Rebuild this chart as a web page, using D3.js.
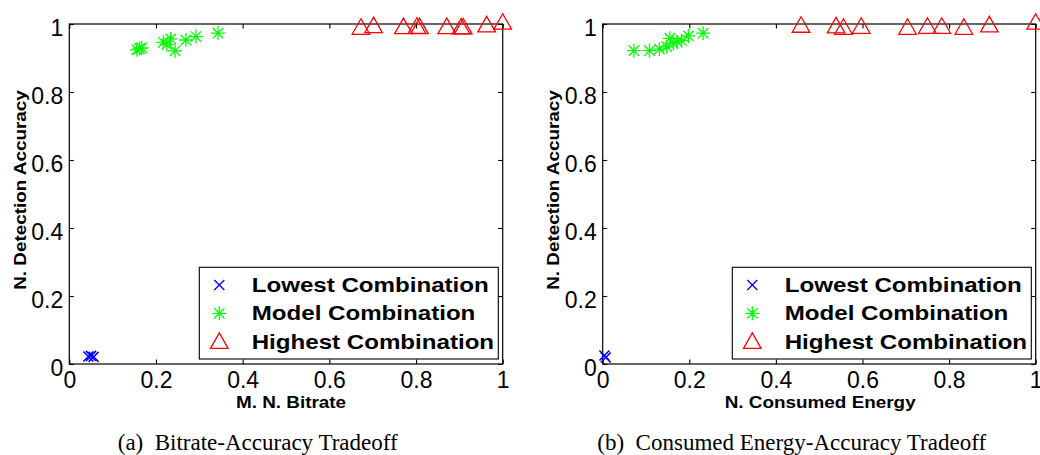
<!DOCTYPE html>
<html><head><meta charset="utf-8">
<script src="https://cdn.jsdelivr.net/npm/d3@7"></script>
<style>body{margin:0;background:#fff} svg{display:block}</style>
</head><body>
<svg id="chart" width="1040" height="455"></svg>
<script>
// ---------- data ----------
const tickValues = [0, 0.2, 0.4, 0.6, 0.8, 1];
const tickLabels = ["0", "0.2", "0.4", "0.6", "0.8", "1"];
const seriesNames = ["Lowest Combination", "Model Combination", "Highest Combination"];
const xTitles = ["M. N. Bitrate", "N. Consumed Energy"];
const yTitle = "N. Detection Accuracy";
const captions = ["(a)\u00A0\u00A0Bitrate-Accuracy Tradeoff", "(b)\u00A0\u00A0Consumed Energy-Accuracy Tradeoff"];

// (a) bitrate vs accuracy
const bitrateLowX = [0.044, 0.050, 0.056];
const bitrateLowY = [0.022, 0.024, 0.021];
const bitrateModelX = [0.156, 0.162, 0.167, 0.217, 0.225, 0.234, 0.244, 0.269, 0.292, 0.343];
const bitrateModelY = [0.924, 0.928, 0.930, 0.946, 0.940, 0.956, 0.921, 0.953, 0.963, 0.973];
const bitrateHighX = [0.673, 0.702, 0.771, 0.802, 0.808, 0.871, 0.904, 0.909, 0.963, 1.0];
const bitrateHighY = [0.985, 0.990, 0.987, 0.988, 0.987, 0.987, 0.986, 0.986, 0.992, 1.0];

// (b) energy vs accuracy
const energyLowX = [0.004, 0.007];
const energyLowY = [0.025, 0.019];
const energyModelX = [0.072, 0.108, 0.131, 0.148, 0.155, 0.163, 0.172, 0.182, 0.198, 0.232];
const energyModelY = [0.9215, 0.9215, 0.926, 0.933, 0.958, 0.943, 0.948, 0.951, 0.965, 0.973];
const energyHighX = [0.458, 0.539, 0.556, 0.597, 0.704, 0.750, 0.783, 0.834, 0.893, 1.0];
const energyHighY = [0.991, 0.989, 0.985, 0.988, 0.985, 0.988, 0.988, 0.985, 0.992, 1.0];

// ---------- drawing ----------
const svg = d3.select("#chart");
const SANS = "'Liberation Sans', Arial, Helvetica, sans-serif";
const SERIF = "'Liberation Serif', 'Times New Roman', serif";
const colors = ["#0000ff", "#00ff00", "#ff0000"];
const widths = [1.6, 1.3, 1.3];

const markerPath = [
  () => { const r = 5; return `M${-r},${-r}L${r},${r}M${-r},${r}L${r},${-r}`; },
  () => { const r = 7, d = 5.2; return `M${-r},0L${r},0M0,${-r}L0,${r}M${-d},${-d}L${d},${d}M${-d},${d}L${d},${-d}`; },
  () => "M0,-10.3L8.8,5.2L-8.8,5.2Z"
];

function stretch(sel, k) {
  sel.each(function () {
    const len = this.getComputedTextLength();
    d3.select(this).attr("textLength", len * k).attr("lengthAdjust", "spacingAndGlyphs");
  });
}

const panels = [
  { left: 69.3, right: 502.7, xTitle: xTitles[0], caption: captions[0], captionX: 257.7, titleShift: 5,
    series: [[bitrateLowX, bitrateLowY], [bitrateModelX, bitrateModelY], [bitrateHighX, bitrateHighY]] },
  { left: 602.7, right: 1035.7, xTitle: xTitles[1], caption: captions[1], captionX: 791.7, titleShift: 1,
    series: [[energyLowX, energyLowY], [energyModelX, energyModelY], [energyHighX, energyHighY]] }
];

const TOP = 24, BOTTOM = 364;

panels.forEach(p => {
  const x = d3.scaleLinear().domain([0, 1]).range([p.left, p.right]);
  const y = d3.scaleLinear().domain([0, 1]).range([BOTTOM, TOP]);
  const g = svg.append("g");
  const fmt = (d, i) => tickLabels[i];

  g.append("rect").attr("x", p.left).attr("y", TOP)
    .attr("width", p.right - p.left).attr("height", BOTTOM - TOP)
    .attr("fill", "#fff").attr("stroke", "#000").attr("stroke-width", 1.2);

  const styleAxis = a => {
    a.select(".domain").remove();
    a.selectAll(".tick line").attr("stroke", "#000").attr("stroke-width", 1.1);
    a.selectAll("text").attr("fill", "#000").attr("font-family", SANS).attr("font-size", 23);
  };

  g.append("g").attr("transform", `translate(0,${BOTTOM})`)
    .call(d3.axisBottom(x).tickValues(tickValues).tickFormat(fmt).tickSizeInner(-4.5).tickSizeOuter(0).tickPadding(8))
    .call(styleAxis);
  g.append("g").attr("transform", `translate(0,${TOP})`)
    .call(d3.axisTop(x).tickValues(tickValues).tickFormat("").tickSizeInner(-4.5).tickSizeOuter(0))
    .call(styleAxis);
  g.append("g").attr("transform", `translate(${p.left},0)`)
    .call(d3.axisLeft(y).tickValues(tickValues).tickFormat(fmt).tickSizeInner(-4.5).tickSizeOuter(0).tickPadding(6))
    .call(styleAxis)
    .selectAll("text").attr("dy", "0.5em");
  g.append("g").attr("transform", `translate(${p.right},0)`)
    .call(d3.axisRight(y).tickValues(tickValues).tickFormat("").tickSizeInner(-4.5).tickSizeOuter(0))
    .call(styleAxis);

  // axis titles
  g.append("text").attr("x", (p.left + p.right) / 2 + p.titleShift).attr("y", 408.3)
    .attr("text-anchor", "middle").attr("font-family", SANS).attr("font-weight", "bold")
    .attr("font-size", 16).text(p.xTitle).call(stretch, 1.18);
  g.append("text").attr("transform", `translate(${p.left - 43.3},${(TOP + BOTTOM) / 2 - 4}) rotate(-90)`)
    .attr("text-anchor", "middle").attr("font-family", SANS).attr("font-weight", "bold")
    .attr("font-size", 16).text(yTitle).call(stretch, 1.18);

  // points
  p.series.forEach((s, si) => {
    const pts = s[0].map((v, i) => [v, s[1][i]]);
    g.append("g").selectAll("path").data(pts).join("path")
      .attr("transform", d => `translate(${x(d[0])},${y(d[1])})`)
      .attr("d", markerPath[si]())
      .attr("fill", "none").attr("stroke", colors[si]).attr("stroke-width", widths[si]);
  });

  // legend
  const lx = p.right - 303.4, ly = 267.3;
  const lg = g.append("g");
  lg.append("rect").attr("x", lx).attr("y", ly).attr("width", 299).attr("height", 91.7)
    .attr("fill", "#fff").attr("stroke", "#000").attr("stroke-width", 1.1);
  seriesNames.forEach((name, i) => {
    const cy = 285 + i * 28.35;
    lg.append("path").attr("transform", `translate(${lx + 20},${cy + (i === 2 ? 1.5 : 0)})`)
      .attr("d", markerPath[i]()).attr("fill", "none").attr("stroke", colors[i]).attr("stroke-width", 1.3);
    lg.append("text").attr("x", lx + 52.4).attr("y", cy + 7)
      .attr("font-family", SANS).attr("font-weight", "bold").attr("font-size", 21)
      .attr("fill", "#000").text(name).call(stretch, 1.148);
  });

  // caption
  svg.append("text").attr("x", p.captionX).attr("y", 450)
    .attr("text-anchor", "middle").attr("font-family", SERIF).attr("font-size", 23)
    .attr("fill", "#000").text(p.caption);
});
</script>
</body></html>
